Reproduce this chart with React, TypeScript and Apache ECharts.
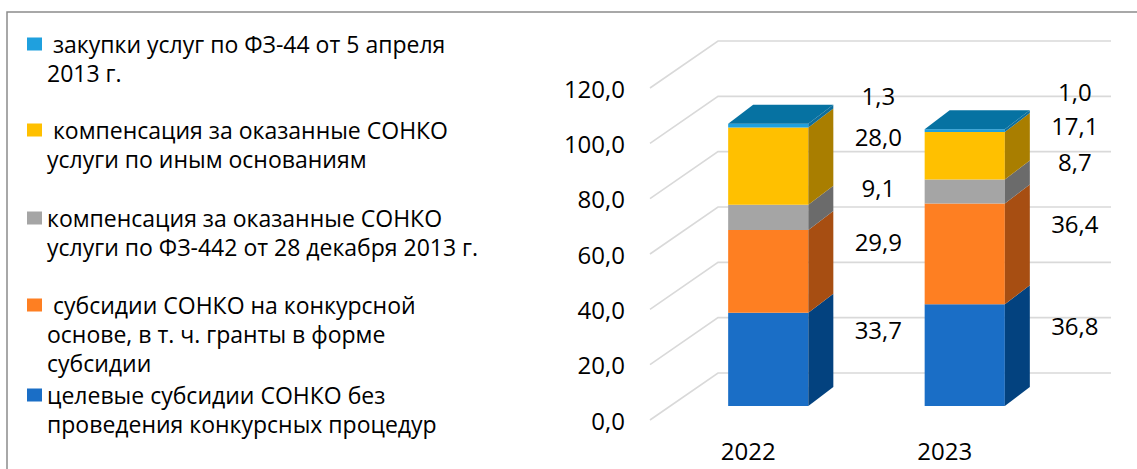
import React, { useEffect, useRef } from "react";
import * as echarts from "echarts";

// ---- data ----
const years = ["2022", "2023"];
const targetedSubsidies = [33.7, 36.8];
const competitiveSubsidies = [29.9, 36.4];
const fz442Compensation = [9.1, 8.7];
const otherCompensation = [28.0, 17.1];
const fz44Procurement = [1.3, 1.0];
const yTicks = [0, 20, 40, 60, 80, 100, 120];

const seriesNames = [
  "целевые субсидии СОНКО без\nпроведения конкурсных процедур",
  " субсидии СОНКО на конкурсной\nоснове, в т. ч. гранты в форме\nсубсидии",
  "компенсация за оказанные СОНКО\nуслуги по ФЗ-442 от 28 декабря 2013 г.",
  " компенсация за оказанные СОНКО\nуслуги по иным основаниям",
  " закупки услуг по ФЗ-44 от 5 апреля\n2013 г.",
];

const FONT = "'Open Sans', 'Noto Sans', sans-serif";

const stackDefs = [
  { name: seriesNames[0], values: targetedSubsidies, front: "#1a6ec6", side: "#03427f", top: "#0d5aa8" },
  { name: seriesNames[1], values: competitiveSubsidies, front: "#fe7f22", side: "#a74e12", top: "#c8601a" },
  { name: seriesNames[2], values: fz442Compensation, front: "#a5a5a5", side: "#6b6b6b", top: "#8a8a8a" },
  { name: seriesNames[3], values: otherCompensation, front: "#ffc000", side: "#a97e00", top: "#d09e00" },
  { name: seriesNames[4], values: fz44Procurement, front: "#1fa0de", side: "#0d6e9c", top: "#0672a2" },
];

const fmt = (v: number) => v.toFixed(1).replace(".", ",");

export default function App() {
  const ref = useRef<HTMLDivElement>(null);

  useEffect(() => {
    const chart = echarts.init(ref.current!, null, { renderer: "svg" });

    // depth geometry (px) relative to the bar plane
    const FRONT_DX = -20, FRONT_DY = 14;
    const BACK_DX = 48, BACK_DY = -33;
    const BAR_DX = 25, BAR_DY = -19;
    const LABEL_DX = 70, LABEL_DY = -30, LABEL_GAP = 34;

    const bases = stackDefs.map((_, s) =>
      years.map((__, i) => {
        let b = 0;
        for (let k = 0; k < s; k++) b += stackDefs[k].values[i];
        return b;
      })
    );

    // label y for every segment of category i, pushed apart bottom-up
    const labelYs = (api: any, i: number) => {
      const ys: number[] = [];
      let prev = Infinity;
      stackDefs.forEach((def, s) => {
        const mid = bases[s][i] + def.values[i] / 2;
        let y = api.coord([i, mid])[1] + LABEL_DY;
        if (y > prev - LABEL_GAP) y = prev - LABEL_GAP;
        ys.push(y);
        prev = y;
      });
      return ys;
    };

    const wallSeries = {
      type: "custom",
      name: "walls",
      coordinateSystem: "cartesian2d",
      xAxisIndex: 1,
      yAxisIndex: 1,
      z: 1,
      silent: true,
      data: yTicks.map((t) => [0, t]),
      encode: { x: 0, y: 1 },
      renderItem: (params: any, api: any) => {
        const cs = params.coordSys;
        const y = api.coord([0, api.value(1)])[1];
        return {
          type: "polyline",
          shape: {
            points: [
              [cs.x + FRONT_DX, y + FRONT_DY],
              [cs.x + BACK_DX, y + BACK_DY],
              [cs.x + cs.width + BACK_DX, y + BACK_DY],
            ],
          },
          style: { stroke: "#d9d9d9", lineWidth: 1.6, fill: "none" },
        };
      },
    };

    const barSeries = stackDefs.map((def, s) => ({
      type: "custom",
      name: def.name,
      coordinateSystem: "cartesian2d",
      xAxisIndex: 1,
      yAxisIndex: 1,
      z: 2,
      itemStyle: { color: def.front },
      data: def.values.map((v, i) => [i, v]),
      encode: { x: 0, y: 1 },
      renderItem: (params: any, api: any) => {
        const i = api.value(0);
        const v = api.value(1);
        const b = bases[s][i];
        const pBot = api.coord([i, b]);
        const pTop = api.coord([i, b + v]);
        const half = api.size([1, 0])[0] * 0.204;
        const xl = pBot[0] - half;
        const xr = pBot[0] + half;
        const yb = pBot[1];
        const yt = pTop[1];
        const children: any[] = [
          {
            type: "rect",
            shape: { x: xl, y: yt, width: xr - xl, height: yb - yt },
            style: { fill: def.front },
          },
          {
            type: "polygon",
            shape: {
              points: [
                [xr, yb],
                [xr + BAR_DX, yb + BAR_DY],
                [xr + BAR_DX, yt + BAR_DY],
                [xr, yt],
              ],
            },
            style: { fill: def.side },
          },
        ];
        if (s === stackDefs.length - 1) {
          children.push({
            type: "polygon",
            shape: {
              points: [
                [xl, yt],
                [xr, yt],
                [xr + BAR_DX, yt + BAR_DY],
                [xl + BAR_DX, yt + BAR_DY],
              ],
            },
            style: { fill: def.top },
          });
        }
        children.push({
          type: "text",
          style: {
            text: fmt(v),
            x: xr + LABEL_DX,
            y: labelYs(api, i)[s],
            align: "center",
            verticalAlign: "middle",
            fontSize: 24,
            fontFamily: FONT,
            fill: "#000",
          },
        });
        return { type: "group", children };
      },
    }));

    // legend: top-to-bottom order is reverse of stacking;
    // the square marker sits beside the first line of each wrapped entry
    const LH = 29;
    const SQ_W = 15, SQ_H = 13;
    const firstLineCenters = [44, 130, 218, 305, 395];
    const legendOrder = [4, 3, 2, 1, 0];
    const legends = legendOrder.map((s, k) => {
      const name = stackDefs[s].name;
      const n = name.split("\n").length;
      const iconH = (n - 1) * LH + SQ_H;
      return {
        data: [name],
        left: 27,
        top: firstLineCenters[k] - LH / 2,
        padding: 0,
        orient: "vertical",
        selectedMode: false,
        icon: `path://M0,0h${SQ_W}v${SQ_H}h-${SQ_W}zM0,${iconH}h0.01`,
        itemWidth: SQ_W,
        itemHeight: iconH,
        itemStyle: { borderWidth: 0 },
        textStyle: {
          fontSize: 23,
          fontFamily: FONT,
          color: "#000",
          lineHeight: LH,
        },
      };
    });

    const option: any = {
      animation: false,
      backgroundColor: "#fff",
      graphic: [
        {
          type: "polyline",
          silent: true,
          shape: { points: [[7, 480], [7, 12], [1150, 12]] },
          style: { stroke: "#8c8c8c", lineWidth: 1.5, fill: "none" },
        },
      ],
      legend: legends,
      grid: [
        { left: 650, top: 88, width: 393, height: 332 },
        { left: 670, top: 74, width: 393, height: 332 },
      ],
      xAxis: [
        {
          type: "category",
          gridIndex: 0,
          data: years,
          axisLine: { show: false },
          axisTick: { show: false },
          axisLabel: { fontSize: 24, fontFamily: FONT, color: "#000", margin: 18 },
        },
        { type: "category", gridIndex: 1, data: years, show: false },
      ],
      yAxis: [
        {
          type: "value",
          gridIndex: 0,
          min: 0,
          max: 120,
          interval: 20,
          axisLine: { show: false },
          axisTick: { show: false },
          splitLine: { show: false },
          axisLabel: {
            fontSize: 24,
            fontFamily: FONT,
            color: "#000",
            margin: 25,
            formatter: (v: number) => fmt(v),
          },
        },
        { type: "value", gridIndex: 1, min: 0, max: 120, interval: 20, show: false, splitLine: { show: false } },
      ],
      series: [wallSeries, ...barSeries],
    };

    chart.setOption(option);
    return () => chart.dispose();
  }, []);

  return (
    <div
      ref={ref}
      style={{ position: "absolute", left: 0, top: 0, width: 1137, height: 469, background: "#fff" }}
    />
  );
}
